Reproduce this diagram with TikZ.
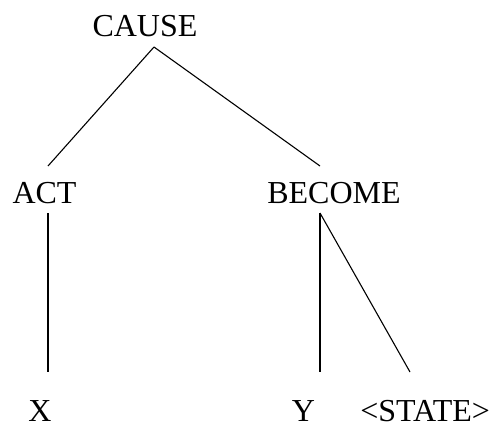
\documentclass[tikz,border=0pt]{standalone}
\usepackage{fontspec}
\setmainfont{Liberation Serif}
\usetikzlibrary{calc}
\begin{document}
\begin{tikzpicture}[x=0.5pt,y=-0.5pt,
  lbl/.style={font=\fontsize{16}{19}\selectfont, inner sep=0pt, anchor=base},
  branch/.style={line width=0.55pt, black}]
\useasboundingbox (0,0) rectangle (492,423);

% labels of the tree
\node[lbl] (cause)  at (145,36)   {CAUSE};
\node[lbl] (act)    at (44.5,203) {ACT};
\node[lbl] (become) at (334,203)  {BECOME};
\node[lbl] (x)      at (40,421)   {X};
\node[lbl] (y)      at (303.5,421){Y};
\node[lbl, anchor=base west] (state) at (360,421) {<STATE>};

% attachment points of the branches
\coordinate (cause-foot)  at ($(cause.base)+(9,11)$);
\coordinate (act-head)    at ($(act.base)+(3.5,-37)$);
\coordinate (act-foot)    at ($(act.base)+(3.5,10)$);
\coordinate (become-head) at ($(become.base)+(-14,-37)$);
\coordinate (become-foot) at ($(become.base)+(-14,10)$);
\coordinate (x-head)      at ($(x.base)+(8,-49)$);
\coordinate (y-head)      at ($(y.base)+(16.5,-49)$);
\coordinate (state-head)  at ($(state.base west)+(50,-49)$);

% branches
\draw[branch] (cause-foot) -- (act-head);
\draw[branch] (cause-foot) -- (become-head);
\draw[branch] (act-foot) -- (x-head);
\draw[branch] (become-foot) -- (y-head);
\draw[branch] (become-foot) -- (state-head);
\end{tikzpicture}
\end{document}
